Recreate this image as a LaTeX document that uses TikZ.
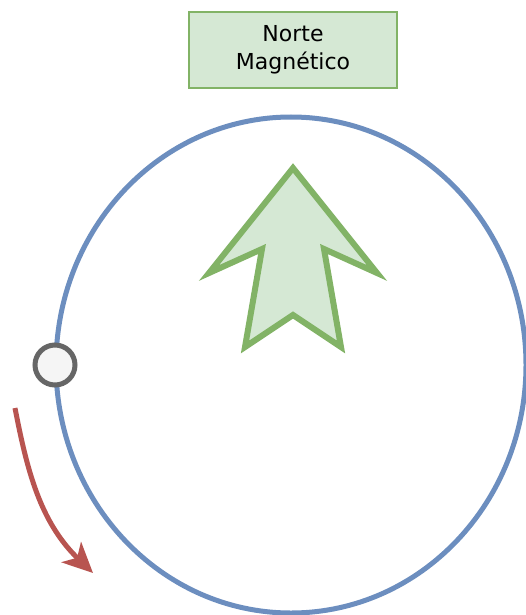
\documentclass[tikz,border=0pt]{standalone}
\usepackage{fontspec}
\setmainfont{DejaVu Sans}
\usepackage{tikz}
\usetikzlibrary{arrows.meta,shapes.geometric}
\definecolor{northgreen}{RGB}{213,232,212}
\definecolor{edgegreen}{RGB}{130,179,102}
\definecolor{orbitblue}{RGB}{108,142,191}
\definecolor{turnred}{RGB}{184,84,80}
\definecolor{markgray}{RGB}{102,102,102}
\definecolor{markfill}{RGB}{245,245,245}
\tikzset{
  northbox/.style={
    draw=edgegreen, fill=northgreen, line width=1.5pt,
    minimum width=208pt, minimum height=76pt, align=center,
    inner sep=0pt, font=\fontsize{22}{28}\selectfont
  },
  orbit/.style={
    ellipse, draw=orbitblue, line width=5pt,
    minimum width=470pt, minimum height=496pt, inner sep=0pt
  },
  marker/.style={
    circle, draw=markgray, fill=markfill, line width=5pt,
    minimum size=40pt, inner sep=0pt
  },
  needle/.style={draw=edgegreen, fill=northgreen, line width=6pt, line join=miter},
  turn/.style={-{Stealth[length=30pt,width=28pt,inset=8pt]}, line width=5pt, draw=turnred}
}

\begin{document}
\begin{tikzpicture}[x=1pt,y=-1pt]
  \useasboundingbox (0,0) rectangle (525,615);

  % label and orbit
  \node[northbox] (north) at (293,50) {Norte\\Magnético};
  \node[orbit] (orbit) at (291,365) {};
  \node[marker] (mark) at (55,365) {};

  % compass needle
  \draw[needle] (293,168) -- (377,273) -- (324,249) -- (341,347)
    -- (293,315) -- (245,347) -- (262,249) -- (209,273) -- cycle;

  % direction of rotation
  \coordinate (turnstart) at (15,408);
  \coordinate (turnend) at (93,573);
  \draw[turn] (turnstart) .. controls (27,470) and (40,522) .. (turnend);
\end{tikzpicture}
\end{document}
